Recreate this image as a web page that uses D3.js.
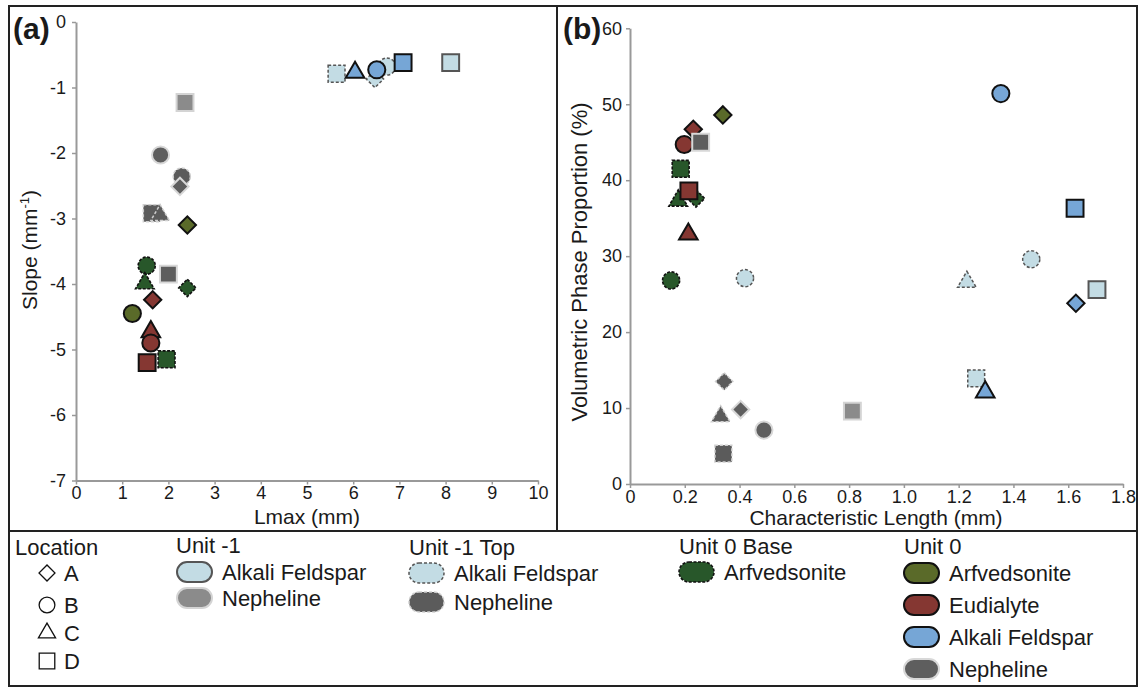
<!DOCTYPE html>
<html>
<head>
<meta charset="utf-8">
<script src="https://cdn.jsdelivr.net/npm/d3@7"></script>
<style>
  body { margin: 0; background: #fff; }
  text { font-family: "Liberation Sans", Arial, sans-serif; fill: #1a1a1a; }
</style>
</head>
<body>
<script>
// tick labels
const slopeTicks = [-7, -6, -5, -4, -3, -2, -1, 0]
const lmaxTicks = [0, 1, 2, 3, 4, 5, 6, 7, 8, 9, 10]
const volTicks = [0, 10, 20, 30, 40, 50, 60]
const charTicks = [0, 0.2, 0.4, 0.6, 0.8, 1.0, 1.2, 1.4, 1.6, 1.8]

// panel (a): [location, Lmax, slope]
const aU1Alk = [["D", 8.11, -0.62]]
const aU1Neph = [["D", 2.36, -1.23]]
const aU1TopAlk = [["D", 5.64, -0.79], ["A", 6.47, -0.87], ["B", 6.73, -0.68]]
const aU1TopNeph = [["D", 1.64, -2.92], ["C", 1.82, -2.95], ["B", 2.29, -2.36]]
const aU0BaseArf = [["B", 1.53, -3.72], ["C", 1.49, -3.99], ["A", 2.41, -4.06], ["D", 1.96, -5.15]]
const aU0Arf = [["A", 2.41, -3.10], ["B", 1.22, -4.45]]
const aU0Eud = [["A", 1.66, -4.24], ["C", 1.62, -4.73], ["B", 1.62, -4.90], ["D", 1.54, -5.20]]
const aU0Alk = [["C", 6.04, -0.77], ["B", 6.51, -0.73], ["D", 7.08, -0.62]]
const aU0Neph = [["A", 2.25, -2.51], ["B", 1.83, -2.03], ["D", 2.0, -3.85]]

// panel (b): [location, characteristic length, volume %]
const bU1Alk = [["D", 1.705, 25.6]]
const bU1Neph = [["D", 0.812, 9.6]]
const bU1TopAlk = [["B", 1.465, 29.6], ["B", 0.42, 27.1], ["C", 1.23, 26.6], ["D", 1.264, 13.9]]
const bU1TopNeph = [["A", 0.344, 13.5], ["C", 0.331, 8.9], ["D", 0.341, 4.0]]
const bU0BaseArf = [["D", 0.185, 41.5], ["A", 0.241, 37.6], ["C", 0.176, 37.3], ["B", 0.15, 26.8]]
const bU0Arf = [["A", 0.339, 48.6]]
const bU0Eud = [["A", 0.231, 46.7], ["B", 0.198, 44.7], ["D", 0.215, 38.6], ["C", 0.213, 32.9]]
const bU0Alk = [["B", 1.354, 51.4], ["D", 1.625, 36.3], ["A", 1.628, 23.8], ["C", 1.297, 12.1]]
const bU0Neph = [["D", 0.258, 45.0], ["A", 0.404, 9.8], ["B", 0.489, 7.1]]

// series styles
const st = {
  u1Alk:   {fill: "#c3dce4", stroke: "#555", dash: null, w: 2},
  u1Neph:  {fill: "#8b8b8b", stroke: "#d4d4d4", dash: null, w: 2},
  u1TopAlk:{fill: "#c3dce4", stroke: "#555", dash: "3,2", w: 1.5},
  u1TopNeph:{fill: "#5b5b5b", stroke: "#cfcfcf", dash: "3,2", w: 1.5},
  u0BaseArf:{fill: "#28572a", stroke: "#111", dash: "3,1.5", w: 1.6},
  u0Arf:   {fill: "#5a6a29", stroke: "#111", dash: null, w: 2},
  u0Eud:   {fill: "#853732", stroke: "#111", dash: null, w: 2},
  u0Alk:   {fill: "#76a6d6", stroke: "#111", dash: null, w: 2},
  u0Neph:  {fill: "#5e5e5e", stroke: "#d8d8d8", dash: null, w: 2}
}

const W = 1145, H = 689
const svg = d3.select("body").append("svg").attr("width", W).attr("height", H)

// frames
svg.append("rect").attr("x", 9).attr("y", 6).attr("width", 1128).attr("height", 680)
   .attr("fill", "none").attr("stroke", "#222").attr("stroke-width", 2)
svg.append("line").attr("x1", 557).attr("x2", 557).attr("y1", 6).attr("y2", 531)
   .attr("stroke", "#222").attr("stroke-width", 2)
svg.append("line").attr("x1", 9).attr("x2", 1137).attr("y1", 531).attr("y2", 531)
   .attr("stroke", "#222").attr("stroke-width", 2)

function symPath(loc, big) {
  let k = big || 1
  if (loc === "A") return d3.symbol(d3.symbolSquare, 150 * k)()
  if (loc === "B") return d3.symbol(d3.symbolCircle, 230 * k)()
  if (loc === "C") return d3.symbol(d3.symbolTriangle, 150 * k)()
  return d3.symbol(d3.symbolSquare, 285 * k)()
}

function drawAxes(g, x, y, xt, yt, xfmt, yfmt, ypad) {
  let xa = d3.axisBottom(x).tickValues(xt).tickFormat(xfmt).tickSize(4).tickSizeOuter(0).tickPadding(2)
  let ya = d3.axisLeft(y).tickValues(yt).tickFormat(yfmt).tickSize(4).tickSizeOuter(0).tickPadding(ypad)
  let gx = g.append("g").attr("transform", "translate(0," + y.range()[0] + ")").call(xa)
  let gy = g.append("g").attr("transform", "translate(" + x.range()[0] + ",0)").call(ya)
  ;[gx, gy].forEach(a => {
    a.select(".domain").attr("stroke", "#999").attr("stroke-width", 2)
    a.selectAll(".tick line").attr("stroke", "#999").attr("stroke-width", 1.5)
    a.selectAll(".tick text").attr("font-size", 18).attr("fill", "#1a1a1a")
      .style("font-family", "'Liberation Sans', Arial, sans-serif")
  })
}

function drawPoints(g, x, y, data, s) {
  g.append("g").selectAll("path")
   .data(data)
   .enter()
   .append("path")
   .attr("d", d => symPath(d[0]))
   .attr("transform", d => "translate(" + x(d[1]) + "," + y(d[2]) + ")" + (d[0] === "A" ? " rotate(45)" : ""))
   .attr("fill", s.fill)
   .attr("stroke", s.stroke)
   .attr("stroke-width", s.w)
   .attr("stroke-dasharray", s.dash)
}

// ---------- panel (a)
const xA = d3.scaleLinear().domain([0, 10]).range([76, 538])
const yA = d3.scaleLinear().domain([-7, 0]).range([480.5, 22])
const gA = svg.append("g")
drawAxes(gA, xA, yA, lmaxTicks, slopeTicks, d => String(d), d => String(d), 6)

drawPoints(gA, xA, yA, aU1Alk, st.u1Alk)
drawPoints(gA, xA, yA, aU1Neph, st.u1Neph)
drawPoints(gA, xA, yA, aU1TopAlk, st.u1TopAlk)
drawPoints(gA, xA, yA, aU0Alk, st.u0Alk)
drawPoints(gA, xA, yA, aU1TopNeph, st.u1TopNeph)
drawPoints(gA, xA, yA, aU0Neph, st.u0Neph)
drawPoints(gA, xA, yA, aU0Arf, st.u0Arf)
drawPoints(gA, xA, yA, aU0BaseArf, st.u0BaseArf)
drawPoints(gA, xA, yA, aU0Eud, st.u0Eud)

svg.append("text").attr("x", 13).attr("y", 39).attr("font-size", 30).attr("font-weight", "bold").text("(a)")
svg.append("text").attr("x", 307).attr("y", 524).attr("text-anchor", "middle").attr("font-size", 21).text("Lmax (mm)")
let sl = svg.append("text").attr("transform", "translate(37,250) rotate(-90)")
   .attr("text-anchor", "middle").attr("font-size", 21)
sl.append("tspan").text("Slope (mm")
sl.append("tspan").attr("font-size", 13).attr("dy", -8).text("-1")
sl.append("tspan").attr("dy", 8).text(")")

// ---------- panel (b)
const xB = d3.scaleLinear().domain([0, 1.8]).range([630, 1123])
const yB = d3.scaleLinear().domain([0, 60]).range([484, 28.3])
const gB = svg.append("g")
drawAxes(gB, xB, yB, charTicks, volTicks, d => d === 0 ? "0" : d3.format(".1f")(d), d => String(d), 4)

drawPoints(gB, xB, yB, bU1Alk, st.u1Alk)
drawPoints(gB, xB, yB, bU1Neph, st.u1Neph)
drawPoints(gB, xB, yB, bU1TopAlk, st.u1TopAlk)
drawPoints(gB, xB, yB, bU0Alk, st.u0Alk)
drawPoints(gB, xB, yB, bU1TopNeph, st.u1TopNeph)
drawPoints(gB, xB, yB, bU0Arf, st.u0Arf)
drawPoints(gB, xB, yB, bU0BaseArf, st.u0BaseArf)
drawPoints(gB, xB, yB, bU0Eud, st.u0Eud)
drawPoints(gB, xB, yB, bU0Neph, st.u0Neph)

svg.append("text").attr("x", 563).attr("y", 39).attr("font-size", 30).attr("font-weight", "bold").text("(b)")
svg.append("text").attr("x", 876).attr("y", 525).attr("text-anchor", "middle").attr("font-size", 21).text("Characteristic Length (mm)")
svg.append("text").attr("transform", "translate(587,262) rotate(-90)")
   .attr("text-anchor", "middle").attr("font-size", 22).text("Volumetric Phase Proportion (%)")

// ---------- legend
const leg = svg.append("g").attr("font-size", 22)
leg.append("text").attr("x", 15).attr("y", 555).text("Location")
const locs = ["A", "B", "C", "D"]
const locY = [573, 605, 633, 661]
locs.forEach((l, i) => {
  leg.append("path").attr("d", symPath(l, 0.85))
     .attr("transform", "translate(47," + locY[i] + ")" + (l === "A" ? " rotate(45)" : ""))
     .attr("fill", "none").attr("stroke", "#111").attr("stroke-width", 1.3)
  leg.append("text").attr("x", 64).attr("y", locY[i] + 8).text(l)
})

function pill(x, cy, s, label) {
  leg.append("rect").attr("x", x).attr("y", cy - 10).attr("width", 35).attr("height", 20).attr("rx", 10)
     .attr("fill", s.fill).attr("stroke", s.stroke).attr("stroke-width", s.w)
     .attr("stroke-dasharray", s.dash)
  leg.append("text").attr("x", x + 45).attr("y", cy + 8).text(label)
}
leg.append("text").attr("x", 176).attr("y", 553).text("Unit -1")
pill(177, 572, st.u1Alk, "Alkali Feldspar")
pill(177, 598, st.u1Neph, "Nepheline")
leg.append("text").attr("x", 409).attr("y", 555).text("Unit -1 Top")
pill(409, 573, st.u1TopAlk, "Alkali Feldspar")
pill(409, 602, st.u1TopNeph, "Nepheline")
leg.append("text").attr("x", 679).attr("y", 554).text("Unit 0 Base")
pill(679, 572, st.u0BaseArf, "Arfvedsonite")
leg.append("text").attr("x", 904).attr("y", 554).text("Unit 0")
pill(904, 573, st.u0Arf, "Arfvedsonite")
pill(904, 605, st.u0Eud, "Eudialyte")
pill(904, 637, st.u0Alk, "Alkali Feldspar")
pill(904, 669, st.u0Neph, "Nepheline")
</script>
</body>
</html>
